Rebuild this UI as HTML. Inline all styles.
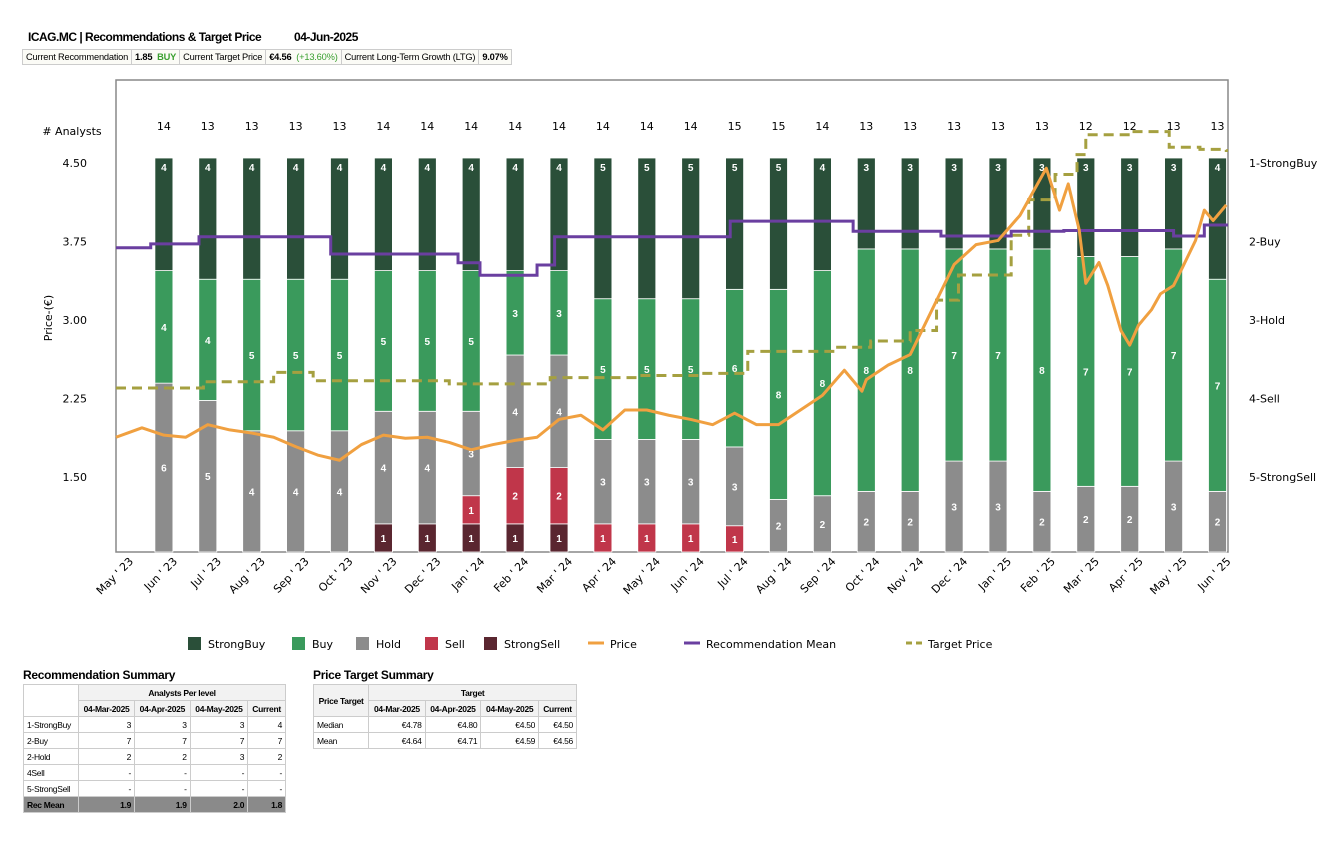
<!DOCTYPE html>
<html><head><meta charset="utf-8">
<style>
body{margin:0;width:1333px;height:845px;background:#fff;font-family:"Liberation Sans",sans-serif;position:relative;overflow:hidden}
.abs{position:absolute}
.hdr{left:28px;top:30px;font-size:12px;font-weight:bold;letter-spacing:-0.5px}
.info{left:22px;top:49px;border-collapse:collapse;font-size:9.3px;letter-spacing:-0.2px;white-space:nowrap}
.info td{border:1px solid #ccc;padding:1px 3px;background:#fbfbf6;height:12px}
.g{color:#3aa030;font-weight:bold}
table.t{border-collapse:collapse;font-size:8.5px;letter-spacing:-0.3px;white-space:nowrap}
table.t td{border:1px solid #ccc;padding:0 3px;height:15px}
table.t .h{background:#f2f2f2;font-weight:bold;text-align:center}
.r{text-align:right}
.tt{font-size:12px;font-weight:bold;letter-spacing:-0.3px}
</style></head><body>
<div class="abs hdr">ICAG.MC | Recommendations &amp; Target Price <span style="margin-left:30px">04-Jun-2025</span></div>
<table class="abs info"><tr>
<td>Current Recommendation</td><td><b>1.85</b> &nbsp;<span class="g">BUY</span></td><td>Current Target Price</td><td><b>€4.56</b> &nbsp;<span style="color:#3aa030">(+13.60%)</span></td><td>Current Long-Term Growth (LTG)</td><td><b>9.07%</b></td></tr></table>

<svg class="abs" style="left:0;top:0" width="1333" height="660" id="chart"></svg>

<div class="abs tt" style="left:23px;top:668px">Recommendation Summary</div>
<table class="abs t" style="left:23px;top:684px;width:263px">
<tr><td rowspan="2" style="width:48px"></td><td colspan="4" class="h">Analysts Per level</td></tr>
<tr><td class="h">04-Mar-2025</td><td class="h">04-Apr-2025</td><td class="h">04-May-2025</td><td class="h">Current</td></tr>
<tr><td>1-StrongBuy</td><td class="r">3</td><td class="r">3</td><td class="r">3</td><td class="r">4</td></tr>
<tr><td>2-Buy</td><td class="r">7</td><td class="r">7</td><td class="r">7</td><td class="r">7</td></tr>
<tr><td>2-Hold</td><td class="r">2</td><td class="r">2</td><td class="r">3</td><td class="r">2</td></tr>
<tr><td>4Sell</td><td class="r">-</td><td class="r">-</td><td class="r">-</td><td class="r">-</td></tr>
<tr><td>5-StrongSell</td><td class="r">-</td><td class="r">-</td><td class="r">-</td><td class="r">-</td></tr>
<tr style="background:#8a8a8a;font-weight:bold"><td>Rec Mean</td><td class="r">1.9</td><td class="r">1.9</td><td class="r">2.0</td><td class="r">1.8</td></tr>
</table>

<div class="abs tt" style="left:313px;top:668px">Price Target Summary</div>
<table class="abs t" style="left:313px;top:684px;width:264px">
<tr><td rowspan="2" class="h">Price Target</td><td colspan="4" class="h">Target</td></tr>
<tr><td class="h">04-Mar-2025</td><td class="h">04-Apr-2025</td><td class="h">04-May-2025</td><td class="h">Current</td></tr>
<tr><td>Median</td><td class="r">€4.78</td><td class="r">€4.80</td><td class="r">€4.50</td><td class="r">€4.50</td></tr>
<tr><td>Mean</td><td class="r">€4.64</td><td class="r">€4.71</td><td class="r">€4.59</td><td class="r">€4.56</td></tr>
</table>

<script>
const months=["May ' 23","Jun ' 23","Jul ' 23","Aug ' 23","Sep ' 23","Oct ' 23","Nov ' 23","Dec ' 23","Jan ' 24","Feb ' 24","Mar ' 24","Apr ' 24","May ' 24","Jun ' 24","Jul ' 24","Aug ' 24","Sep ' 24","Oct ' 24","Nov ' 24","Dec ' 24","Jan ' 25","Feb ' 25","Mar ' 25","Apr ' 25","May ' 25","Jun ' 25"];
const strongBuy=[4,4,4,4,4,4,4,4,4,4,5,5,5,5,5,4,3,3,3,3,3,3,3,3,4];
const buy=[4,4,5,5,5,5,5,5,3,3,5,5,5,6,8,8,8,8,7,7,8,7,7,7,7];
const hold=[6,5,4,4,4,4,4,3,4,4,3,3,3,3,2,2,2,2,3,3,2,2,2,3,2];
const sell=[0,0,0,0,0,0,0,1,2,2,1,1,1,1,0,0,0,0,0,0,0,0,0,0,0];
const strongSell=[0,0,0,0,0,1,1,1,1,1,0,0,0,0,0,0,0,0,0,0,0,0,0,0,0];
const priceTicks=[4.5,3.75,3.0,2.25,1.5];
const recTicks=["1-StrongBuy","2-Buy","3-Hold","4-Sell","5-StrongSell"];
// [month index (0=May'23), value]
const priceT=[-0.1,0.5,1,1.5,2,2.5,3,3.5,4,4.5,5,5.5,6,6.5,7,7.5,8,8.5,9,9.5,10,10.5,11,11.5,12,12.5,13,13.5,14,14.5,15,15.5,16,16.5,16.9,17,17.5,18,18.5,19,19.5,20,20.5,21.1,21.4,21.6,21.85,22,22.3,22.5,22.8,23,23.2,23.5,23.7,24,24.2,24.5,24.7,24.9,25.1,25.2];
const priceV=[1.88,1.97,1.90,1.88,2.00,1.95,1.92,1.88,1.79,1.71,1.66,1.81,1.90,1.87,1.88,1.83,1.76,1.81,1.85,1.88,2.05,2.09,1.95,2.14,2.14,2.09,2.05,2.00,2.11,2.00,2.00,2.14,2.28,2.52,2.32,2.43,2.57,2.67,3.10,3.53,3.72,3.76,4.00,4.45,4.05,4.30,3.86,3.35,3.55,3.33,2.90,2.76,2.95,3.10,3.25,3.33,3.50,3.76,4.05,3.95,4.05,4.10];
const targetT=[-0.1,1.9,3.5,4.4,7.5,9.8,11.8,13.2,14.3,16.3,17.1,18.0,18.6,19.1,20.0,20.3,20.7,21.3,21.8,22.0,23.0,23.9,24.6,25.2];
const targetV=[2.35,2.41,2.50,2.42,2.39,2.45,2.47,2.49,2.70,2.74,2.80,2.90,3.19,3.43,3.43,3.81,4.15,4.39,4.58,4.77,4.80,4.65,4.63,4.62];
const recT=[-0.1,0.7,1.8,4.8,7.7,8.2,9.5,9.9,13.9,16.7,18.7,20.3,21.5,24.0,24.7,25.2];
const recV=[2.08,2.03,1.94,2.16,2.27,2.43,2.30,1.94,1.74,1.87,1.93,1.87,1.86,1.93,1.79,1.79];

const svg=document.getElementById('chart');const NS='http://www.w3.org/2000/svg';
function mk(tag,attrs,parent){const e=document.createElementNS(NS,tag);for(const k in attrs)e.setAttribute(k,attrs[k]);(parent||svg).appendChild(e);return e;}
const X0=120,DX=43.9,L=116,R=1228,T=80,B=552,BT=158;
const xM=m=>X0+m*DX;
const yP=p=>163+(4.5-p)*104.67;
const yR=r=>163+(r-1)*78.5;
let e=mk('rect',{x:L,y:T,width:R-L,height:B-T,fill:'#fff',stroke:'#888','stroke-width':1.5});


e=mk('text',{x:72,y:135,'font-size':11,'text-anchor':'middle','font-family':'DejaVu Sans'});e.textContent='# Analysts';


priceTicks.forEach(p=>{const t=mk('text',{x:87,y:yP(p)+4,'font-size':11,'text-anchor':'end','font-family':'DejaVu Sans'});t.textContent=p.toFixed(2);

});
recTicks.forEach((r,i)=>{const t=mk('text',{x:1249,y:yR(i+1)+4,'font-size':11,'font-family':'DejaVu Sans'});t.textContent=r;

});
e=mk('text',{x:52,y:318,'font-size':11,'text-anchor':'middle',transform:'rotate(-90 52 318)','font-family':'DejaVu Sans'});e.textContent='Price-(€)';


const cols=['#5a2630','#c0364a','#8c8c8c','#3a9a5c','#2a4f39'];
for(let i=0;i<strongBuy.length;i++){
  const segs=[strongSell[i],sell[i],hold[i],buy[i],strongBuy[i]];const tot=segs.reduce((a,b)=>a+b,0);
  const cx=xM(i+1);let y=B;
  segs.forEach((v,k)=>{if(!v)return;const h=v/tot*(B-BT);y-=h;
    const r=mk('rect',{x:cx-9,y:y,width:18,height:h,fill:cols[k],stroke:'#fff','stroke-width':0.8});
    
    
    const ty=(k==4)?y+13:y+h/2+4;
    const t=mk('text',{x:cx,y:ty,'font-size':10,'font-weight':'bold',fill:'#fff','text-anchor':'middle'});t.textContent=v;
    
    });
  const t=mk('text',{x:cx,y:130,'font-size':11,'text-anchor':'middle','font-family':'DejaVu Sans'});t.textContent=tot;
  
  
}
months.forEach((m,i)=>{const x=xM(i)+14;const t=mk('text',{x:x,y:562,'font-size':11,'text-anchor':'end',transform:`rotate(-45 ${x} 562)`,'font-family':'DejaVu Sans'});t.textContent=m;

});
const cl=v=>Math.max(L,Math.min(R,v));
function step(ts,vs,fy){let d='';ts.forEach((t,i)=>{const x=cl(xM(t)),y=fy(vs[i]);if(i==0)d='M'+x+' '+y;else d+=' H'+x+' V'+y;});return d+' H'+R;}
function line(ts,vs,fy){return ts.map((t,i)=>(i?'L':'M')+cl(xM(t))+' '+fy(vs[i])).join(' ');}
e=mk('path',{d:step(targetT,targetV,yP),fill:'none',stroke:'#a5a040','stroke-width':3,'stroke-dasharray':'10 6'});


e=mk('path',{d:step(recT,recV,yR),fill:'none',stroke:'#6a3fa0','stroke-width':3});


e=mk('path',{d:line(priceT,priceV,yP),fill:'none',stroke:'#f0a040','stroke-width':3,'stroke-linejoin':'round'});


const leg=[['StrongBuy',188,'r','#2a4f39'],['Buy',292,'r','#3a9a5c'],['Hold',356,'r','#8c8c8c'],['Sell',425,'r','#c0364a'],['StrongSell',484,'r','#5a2630'],['Price',588,'l','#f0a040'],['Recommendation Mean',684,'l','#6a3fa0'],['Target Price',906,'d','#a5a040']];
leg.forEach(([n,x,t,c])=>{
  let s;
  if(t=='r')s=mk('rect',{x:x,y:637,width:13,height:13,fill:c});
  else s=mk('line',{x1:x,y1:643,x2:x+16,y2:643,stroke:c,'stroke-width':3,'stroke-dasharray':t=='d'?'6 4':'none'});
  
  
  const tx=mk('text',{x:x+(t=='r'?20:22),y:648,'font-size':11,'font-family':'DejaVu Sans'});tx.textContent=n;
  
  
});
</script>
</body></html>
